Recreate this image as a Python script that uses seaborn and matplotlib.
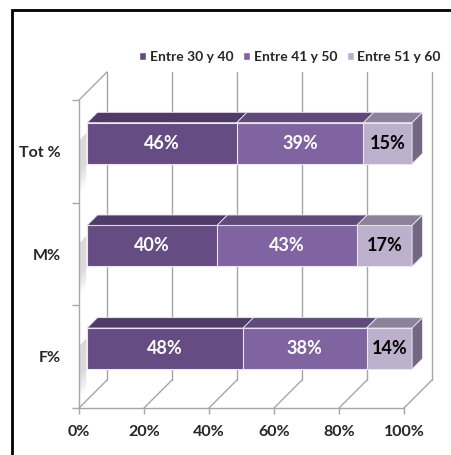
import numpy as np
import pandas as pd
import matplotlib
matplotlib.use("Agg")
import matplotlib.pyplot as plt
import matplotlib.transforms as mtransforms
from matplotlib.patches import Polygon, Rectangle
import seaborn as sns

# data
categories = ["Tot %", "M%", "F%"]
series_names = ["Entre 30 y 40", "Entre 41 y 50", "Entre 51 y 60"]
entre_30_40 = [46, 40, 48]
entre_41_50 = [39, 43, 38]
entre_51_60 = [15, 17, 14]
x_ticks = [0, 20, 40, 60, 80, 100]

front_colors = ["#654c82", "#8064a2", "#bcb0cc"]
top_colors = ["#4f3c66", "#5f4a7a", "#8c8299"]
side_color = "#736884"
text_colors = ["white", "white", "black"]
grid_color = "#a6a6a6"

sns.set_theme(style="white")
plt.rcParams["font.family"] = ["Lato", "DejaVu Sans"]
plt.rcParams["font.weight"] = "bold"

W, H = 451, 455
fig = plt.figure(figsize=(W / 100, H / 100), dpi=100)
ax = fig.add_axes([79 / W, (H - 408) / H, (404 - 79) / W, (408 - 100) / H])

series = [entre_30_40, entre_41_50, entre_51_60]
df = pd.DataFrame({"cat": categories})
for name, vals in zip(series_names, series):
    df[name] = vals
cum = df[series_names].cumsum(axis=1)

# depth of the pseudo 3d box (data units), bar sits between f0 and f1
DX = 28 / 3.25
DY = -28 / 102.7
f0, f1 = 0.29, 0.66
bar_w = 0.4

# stacked bars, drawn from the longest cumulative value down
for i in reversed(range(3)):
    sns.barplot(data=cum, x=series_names[i], y=df["cat"], orient="h",
                color=front_colors[i], width=bar_w, ax=ax, saturation=1,
                edgecolor="#ece6f2", linewidth=0.8, zorder=3)

shift = mtransforms.Affine2D().translate(f0 * DX * 3.25, -f0 * DY * 102.7)
for p in ax.patches:
    p.set_transform(ax.transData + shift)
    p.set_clip_on(False)

ax.set_xlim(0, 100)
ax.set_ylim(2.5, -0.5)

# top and side faces
for j, cat in enumerate(categories):
    yt = j - bar_w / 2
    yb = j + bar_w / 2
    left = 0
    for i in range(3):
        right = cum.loc[j, series_names[i]]
        top = [(left + f0 * DX, yt + f0 * DY), (right + f0 * DX, yt + f0 * DY),
               (right + f1 * DX, yt + f1 * DY), (left + f1 * DX, yt + f1 * DY)]
        ax.add_patch(Polygon(top, closed=True, facecolor=top_colors[i],
                             edgecolor="#ece6f2", lw=0.6, zorder=4, clip_on=False))
        ax.text((left + right) / 2 + f0 * DX, j + f0 * DY, f"{series[i][j]}%",
                ha="center", va="center", color=text_colors[i], fontsize=13,
                fontweight="bold", zorder=6)
        left = right
    side = [(left + f0 * DX, yt + f0 * DY), (left + f1 * DX, yt + f1 * DY),
            (left + f1 * DX, yb + f1 * DY), (left + f0 * DX, yb + f0 * DY)]
    ax.add_patch(Polygon(side, closed=True, facecolor=side_color,
                         edgecolor="#ece6f2", lw=0.6, zorder=4, clip_on=False))
    # soft shadow on the left wall
    for s in range(6):
        sh = [(0, yt + 0.1), (f0 * DX * 0.9, yt + f0 * DY + 0.1),
              (f0 * DX * 0.9, yb + f0 * DY + 0.2 - s * 0.04), (0, yb + 0.2 - s * 0.04)]
        ax.add_patch(Polygon(sh, closed=True, facecolor="#7f7f7f", alpha=0.05,
                             lw=0, zorder=2, clip_on=False))

# walls and gridlines
for k in x_ticks:
    ax.plot([k, k + DX], [2.5, 2.5 + DY], color=grid_color, lw=1, clip_on=False, zorder=1)
    ax.plot([k + DX, k + DX], [2.5 + DY, -0.5 + DY], color=grid_color, lw=1,
            clip_on=False, zorder=1)
ax.plot([0, DX], [-0.5, -0.5 + DY], color=grid_color, lw=1, clip_on=False, zorder=1)

ax.set_xticks(x_ticks)
ax.set_xticklabels([f"{k}%" for k in x_ticks], fontsize=11.5, fontweight="bold")
ax.set_yticks(range(3))
ax.set_yticklabels(categories, fontsize=11.5, fontweight="bold")
ax.set_yticks([-0.5, 0.5, 1.5, 2.5], minor=True)
ax.tick_params(axis="y", which="major", length=0, pad=13)
ax.tick_params(axis="y", which="minor", length=5, color=grid_color, width=1, left=True)
ax.tick_params(axis="x", length=4, color=grid_color, width=1, bottom=True, pad=8)
ax.set_xlabel("")
ax.set_ylabel("")
ax.set_facecolor("none")
for s in ["top", "right"]:
    ax.spines[s].set_visible(False)
for s in ["left", "bottom"]:
    ax.spines[s].set_color(grid_color)
    ax.spines[s].set_linewidth(1)

# legend
handles = [Rectangle((0, 0), 1, 1, facecolor=c) for c in front_colors]
fig.legend(handles, series_names, loc="center", bbox_to_anchor=(290 / W, 1 - 57 / H),
           ncol=3, frameon=False, handlelength=0.5, handleheight=0.5,
           handletextpad=0.25, columnspacing=0.7, prop={"weight": "bold", "size": 10})

# outer frame
fig.patches.append(Rectangle((12 / W, -0.1), 1.2, 1.1 - 10 / H, transform=fig.transFigure,
                             fill=False, edgecolor="black", lw=2, figure=fig))

fig.savefig("out.png", dpi=100)
